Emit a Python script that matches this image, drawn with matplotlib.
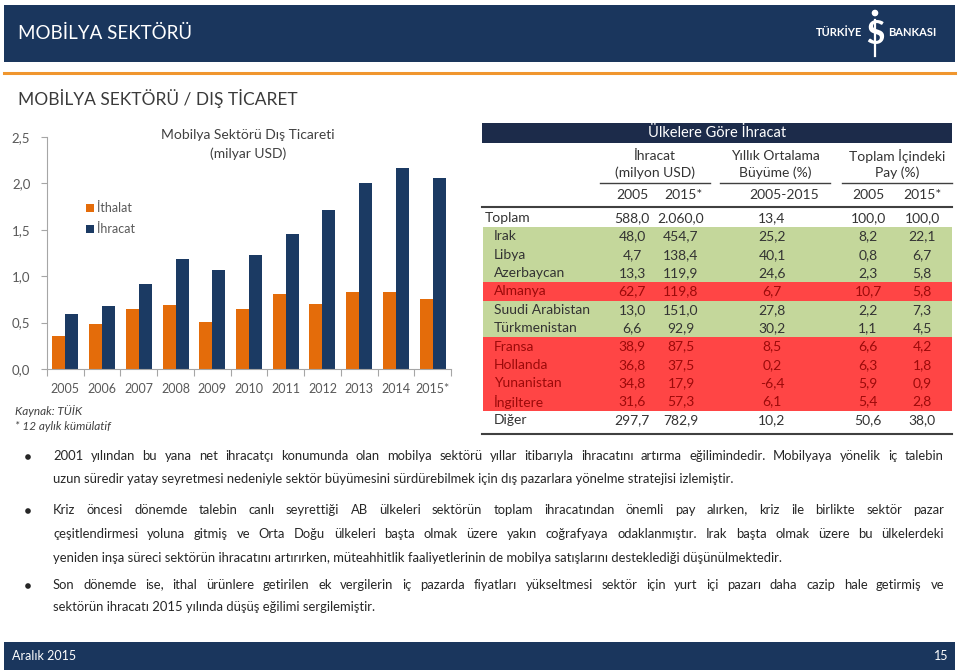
import math
import matplotlib
matplotlib.use("Agg")
import matplotlib.pyplot as plt
from matplotlib.patches import Rectangle, Circle
from matplotlib.font_manager import FontProperties
import numpy as np

plt.rcParams['font.family'] = ['Lato', 'DejaVu Sans']

# --- data -------------------------------------------------------------
years = ['2005', '2006', '2007', '2008', '2009', '2010', '2011', '2012', '2013', '2014', '2015*']
ithalat = [0.355, 0.487, 0.645, 0.688, 0.509, 0.645, 0.806, 0.700, 0.828, 0.835, 0.756]
ihracat = [0.588, 0.677, 0.920, 1.180, 1.070, 1.230, 1.450, 1.710, 2.000, 2.170, 2.060]

countries = ['Toplam', 'Irak', 'Libya', 'Azerbaycan', 'Almanya', 'Suudi Arabistan',
             'Türkmenistan', 'Fransa', 'Hollanda', 'Yunanistan', 'İngiltere', 'Diğer']
row_group = ['total', 'up', 'up', 'up', 'down', 'up', 'up', 'down', 'down', 'down', 'down', 'other']
ihr_2005 = [588.0, 48.0, 4.7, 13.3, 62.7, 13.0, 6.6, 38.9, 36.8, 34.8, 31.6, 297.7]
ihr_2015 = [2060.0, 454.7, 138.4, 119.9, 119.8, 151.0, 92.9, 87.5, 37.5, 17.9, 57.3, 782.9]
buyume = [13.4, 25.2, 40.1, 24.6, 6.7, 27.8, 30.2, 8.5, 0.2, -6.4, 6.1, 10.2]
pay_2005 = [100.0, 8.2, 0.8, 2.3, 10.7, 2.2, 1.1, 6.6, 6.3, 5.9, 5.4, 50.6]
pay_2015 = [100.0, 22.1, 6.7, 5.8, 5.8, 7.3, 4.5, 4.2, 1.8, 0.9, 2.8, 38.0]

paragraphs = [
    ["2001 yılından bu yana net ihracatçı konumunda olan mobilya sektörü yıllar itibarıyla ihracatını artırma eğilimindedir. Mobilyaya yönelik iç talebin",
     "uzun süredir yatay seyretmesi nedeniyle sektör büyümesini sürdürebilmek için dış pazarlara yönelme stratejisi izlemiştir."],
    ["Kriz öncesi dönemde talebin canlı seyrettiği AB ülkeleri sektörün toplam ihracatından önemli pay alırken, kriz ile birlikte sektör pazar",
     "çeşitlendirmesi yoluna gitmiş ve Orta Doğu ülkeleri başta olmak üzere yakın coğrafyaya odaklanmıştır. Irak başta olmak üzere bu ülkelerdeki",
     "yeniden inşa süreci sektörün ihracatını artırırken, müteahhitlik faaliyetlerinin de mobilya satışlarını desteklediği düşünülmektedir."],
    ["Son dönemde ise, ithal ürünlere getirilen ek vergilerin iç pazarda fiyatları yükseltmesi sektör için yurt içi pazarı daha cazip hale getirmiş ve",
     "sektörün ihracatı 2015 yılında düşüş eğilimi sergilemiştir."],
]

NAVY = '#1a365d'
BAR_NAVY = '#1b3a63'
ORANGE = '#e46c0a'
GRAY = '#595959'
DARK = '#333333'


def tr(v):
    s = f"{v:,.1f}"
    return s.replace(",", "X").replace(".", ",").replace("X", ".")


fig = plt.figure(figsize=(9.6, 6.72), dpi=100)
ov = fig.add_axes([0, 0, 1, 1])
ov.set_xlim(0, 960)
ov.set_ylim(672, 0)
ov.axis('off')
r = fig.canvas.get_renderer()

# header / footer
ov.add_patch(Rectangle((4, 5), 951, 57, color=NAVY, lw=0))
ov.plot([4, 955], [73, 73], color='#f0962e', lw=2.2)
ov.text(18, 33, 'MOBİLYA SEKTÖRÜ', color='white', fontsize=13.5, va='center')
ov.text(18, 99, 'MOBİLYA SEKTÖRÜ / DIŞ TİCARET', color='#3a3a3a', fontsize=12.5, va='center')
ov.text(862, 33, 'TÜRKİYE', color='white', fontsize=8, fontweight='bold', va='center', ha='right')
ov.text(888, 33, 'BANKASI', color='white', fontsize=8, fontweight='bold', va='center', ha='left')
ov.text(875, 35, 'S', color='white', fontsize=24, fontweight='bold', va='center', ha='center')
ov.plot([875, 875], [20, 56], color='white', lw=1.6)
ov.add_patch(Circle((875, 13), 2.6, color='white'))
ov.add_patch(Rectangle((4, 642), 951, 28, color=NAVY, lw=0))
ov.text(12, 656, 'Aralık 2015', color='white', fontsize=9, va='center')
ov.text(948, 656, '15', color='white', fontsize=9, va='center', ha='right')

# --- bar chart --------------------------------------------------------
ax = fig.add_axes([47 / 960, 1 - 369 / 672, 404 / 960, 232 / 672])
ax.patch.set_alpha(0)
x = np.arange(len(years))
w = 0.355
ax.bar(x - w / 2, ithalat, w, color=ORANGE, label='İthalat')
ax.bar(x + w / 2, ihracat, w, color=BAR_NAVY, label='İhracat')
ax.set_xlim(-0.5, len(years) - 0.5)
ax.set_ylim(0, 2.5)
ax.set_yticks(np.arange(0, 2.51, 0.5))
ax.set_yticklabels([f"{v:.1f}".replace('.', ',') for v in np.arange(0, 2.51, 0.5)])
ax.set_xticks(np.arange(-0.5, len(years), 1))
ax.set_xticklabels([])
ax.set_xticks(x, minor=True)
ax.set_xticklabels(years, minor=True)
ax.tick_params(axis='x', which='major', length=5, color='#a6a6a6')
ax.tick_params(axis='x', which='minor', length=0, pad=10, labelsize=9, labelcolor=GRAY)
ax.tick_params(axis='y', length=4, color='#a6a6a6', pad=8, labelsize=9.5, labelcolor=GRAY)
for s in ['top', 'right']:
    ax.spines[s].set_visible(False)
for s in ['left', 'bottom']:
    ax.spines[s].set_color('#a6a6a6')
ax.legend(frameon=False, loc='upper left', bbox_to_anchor=(75 / 960, 1 - 191 / 672),
          bbox_transform=fig.transFigure, handlelength=0.6, handleheight=0.6,
          handletextpad=0.3, labelspacing=0.7, fontsize=9, labelcolor=GRAY)
ov.text(248, 135, 'Mobilya Sektörü Dış Ticareti', ha='center', va='center', fontsize=10, color='#404040')
ov.text(248, 154, '(milyar USD)', ha='center', va='center', fontsize=10, color='#404040')
ov.text(15, 411, 'Kaynak: TÜİK', fontsize=8.5, style='italic', color='#404040', va='center')
ov.text(15, 427, '* 12 aylık kümülatif', fontsize=8.5, style='italic', color='#404040', va='center')

# --- table ------------------------------------------------------------
TX0, TX1 = 482, 952
ov.add_patch(Rectangle((TX0, 123), TX1 - TX0, 20, color='#1c2b4a', lw=0))
ov.text((TX0 + TX1) / 2, 133, 'Ülkelere Göre İhracat', color='white', fontsize=10.5, ha='center', va='center')
groups = [('İhracat', '(milyon USD)', 600, 710),
          ('Yıllık Ortalama', 'Büyüme (%)', 720, 830),
          ('Toplam İçindeki', 'Pay (%)', 842, 952)]
for t1, t2, a, b in groups:
    c = (a + b) / 2
    ov.text(c, 156, t1, ha='center', va='center', fontsize=10, color=DARK)
    ov.text(c, 173, t2, ha='center', va='center', fontsize=10, color=DARK)
    ov.plot([a, b], [183, 183], color='#404040', lw=1)
cols = [632, 681, 772, 868, 922]
for cx, lab in zip([632, 683, 784, 868, 922], ['2005', '2015*', '2005-2015', '2005', '2015*']):
    ov.text(cx, 195, lab, ha='center', va='center', fontsize=10, color=DARK)
ov.plot([TX0, TX1], [207, 207], color='#404040', lw=1.5)

y0, dy = 218, 18.36
bg = {'up': '#c4d79b', 'down': '#ff4545'}
for i, name in enumerate(countries):
    yc = y0 + i * dy
    g = row_group[i]
    if g in bg:
        ov.add_patch(Rectangle((TX0 + 1, yc - dy / 2), TX1 - TX0 - 1, dy, color=bg[g], lw=0))
    col = '#9c0a0a' if g == 'down' else DARK
    lx = 485 if g == 'total' else 494
    ov.text(lx, yc, name, ha='left', va='center', fontsize=10, color=col)
    vals = [tr(ihr_2005[i]), tr(ihr_2015[i]), tr(buyume[i]), tr(pay_2005[i]), tr(pay_2015[i])]
    for cx, v in zip(cols, vals):
        ov.text(cx, yc, v, ha='center', va='center', fontsize=10, color=col)
ov.plot([TX0, TX1], [y0 + 11 * dy + 14, y0 + 11 * dy + 14], color='#404040', lw=1.5)

# --- body text (justified) ------------------------------------------------
bprop = FontProperties(family=['Lato', 'DejaVu Sans'], size=9.4)


def put_word(s, xx, base):
    # keep every word on the same pixel baseline (agg rounds by glyph descent)
    wd, h, d = r.get_text_width_height_descent(s, bprop, ismath=False)
    yy = base + math.floor(h) - math.floor(h - d) - d
    ov.text(xx, yy, s, fontproperties=bprop, color='#262626', va='baseline')
    return wd


def put_line(s, base, x0, x1, justify):
    words = s.split()
    if not justify or len(words) < 2:
        put_word(s, x0, base)
        return
    ws = [r.get_text_width_height_descent(wd, bprop, ismath=False)[0] for wd in words]
    gap = (x1 - x0 - sum(ws)) / (len(words) - 1)
    xx = x0
    for wd, wv in zip(words, ws):
        put_word(wd, xx, base)
        xx += wv + gap


line_y = [[456, 479], [510, 534, 558], [585, 607]]
for para, ys in zip(paragraphs, line_y):
    ov.add_patch(Circle((28, ys[0] + 1), 2.1, color='#262626'))
    for k, (ln, yy) in enumerate(zip(para, ys)):
        put_line(ln, yy + 4, 53, 944, k < len(para) - 1)

fig.savefig('out.png', dpi=100)
